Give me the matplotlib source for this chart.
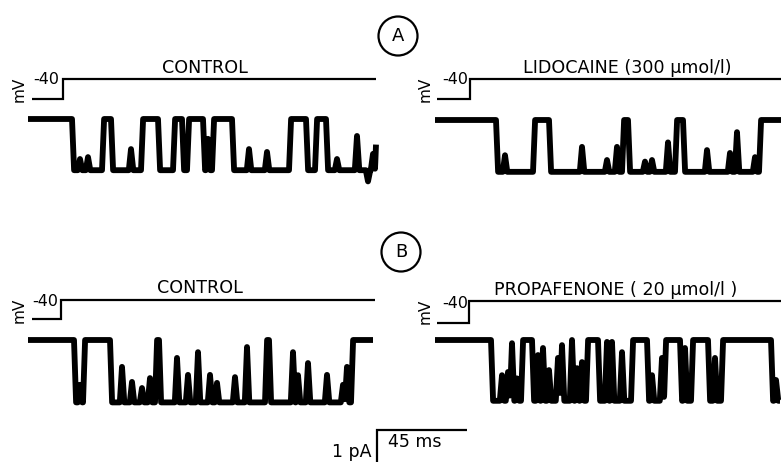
import numpy as np
import matplotlib
matplotlib.use("Agg")
import matplotlib.pyplot as plt
from matplotlib.patches import Circle

# ---------------- data (time in ms, current in pA, voltage in mV) ----------------
HOLD_MV = -100.0      # holding potential (not labelled in the figure)
STEP_MV = -40.0

# Panel A - control
T_A_CTRL = 174.0
AMP_A_CTRL = 1.6
OPEN_A_CTRL = [(22.5, 37.5), (42, 57), (65.5, 73), (77.5, 80), (88, 92.5),
               (102.5, 131), (139.5, 144), (149.5, 174)]
FLICK_A_CTRL = [(26, -1.25), (30, -1.19), (51.5, -0.94), (90, -0.62), (110.5, -0.94),
                (119.5, -1.03), (154.5, -1.25), (164.5, -0.53), (170, -1.95), (172.5, -1.09)]
VT_A_CTRL = [2.0, 17.5, 17.5, 174.0]

# Panel A - lidocaine
T_A_LIDO = 173.0
AMP_A_LIDO = 1.62
OPEN_A_LIDO = [(31, 49.5), (57.5, 94), (97, 120.5), (124.5, 162.5)]
FLICK_A_LIDO = [(35, -1.1), (73.5, -0.84), (86, -1.25), (91, -0.84), (105, -1.3),
                (108.5, -1.25), (116.5, -0.7), (136, -0.94), (147.5, -1.03),
                (151, -0.38), (160, -1.16)]
VT_A_LIDO = [1.0, 17.5, 17.5, 175.0]

# Panel B - control
T_B_CTRL = 172.5
AMP_B_CTRL = 1.95
OPEN_B_CTRL = [(23.5, 28), (41.5, 64), (66, 119), (121, 162)]
FLICK_B_CTRL = [(26, -1.4), (47, -0.84), (52, -1.31), (57, -1.5), (61, -1.19),
                (74.5, -0.56), (80, -1.09), (85, -0.38), (91, -1.09), (94.5, -1.34),
                (103.5, -1.16), (109.5, -0.22), (132.5, -0.38), (135, -1.1),
                (140, -0.72), (149.5, -1.09), (157.5, -1.4), (159.5, -0.84)]
VT_B_CTRL = [2.0, 16.5, 16.5, 173.5]

# Panel B - propafenone
T_B_PROP = 172.5
AMP_B_PROP = 1.9
OPEN_B_PROP = [(28.5, 43.5), (49, 76), (82, 98.5), (106.5, 115), (123, 128.5),
               (137, 143.5), (168.5, 173)]
FLICK_B_PROP = [(33.5, -1.1), (36.5, -1.0), (38.5, -0.1), (41, -1.2), (51.5, -0.47),
                (54, -0.25), (57, -0.94), (61.5, -0.56), (63.5, -0.16), (68.5, 0.0),
                (71, -0.88), (73.5, -0.69), (86, -0.06), (88.5, -0.06), (93.5, -0.38),
                (108.5, -1.1), (113.5, -0.56), (125, -0.25), (140, -0.56), (170.5, -1.25)]
VT_B_PROP = [1.0, 17.0, 17.0, 175.0]

V_LEVELS = [HOLD_MV, HOLD_MV, STEP_MV, STEP_MV]

TITLES = ["CONTROL", "LIDOCAINE (300 \u00b5mol/l)", "CONTROL", "PROPAFENONE ( 20 \u00b5mol/l )"]
SCALE_MS = 45
SCALE_PA = 1

# ---------------- layout ----------------
W, H, DPI = 781, 462, 100
PX_PER_MS = 2.0
PX_PER_PA = 32.0

fig = plt.figure(figsize=(W / DPI, H / DPI), dpi=DPI)
fig.patch.set_facecolor("white")


def px_axes(left, top, width, height):
    ax = fig.add_axes([left / W, 1 - (top + height) / H, width / W, height / H])
    ax.set_axis_off()
    return ax


def build_trace(T, amp, opens, flicks, dt=0.05, rise=1.0, fw=1.1):
    t = np.arange(0, T + dt, dt)
    frac = np.zeros_like(t)
    for a, b in opens:
        up = np.clip((t - a) / rise + 0.5, 0, 1)
        down = np.clip((b - t) / rise + 0.5, 0, 1)
        frac = np.maximum(frac, np.minimum(up, down))
    cur = -amp * frac
    for tc, lvl in flicks:
        w = np.clip(1 - np.abs(t - tc) / fw, 0, 1)
        cur = cur + (lvl - cur) * w
    return t, cur


panels = [
    dict(x0=28, cy=119, vh=79, vl=99, T=T_A_CTRL, amp=AMP_A_CTRL, op=OPEN_A_CTRL,
         fl=FLICK_A_CTRL, vt=VT_A_CTRL, title=TITLES[0], tx=205, ty=68,
         lab40=(46, 80), mv=(19, 89)),
    dict(x0=435, cy=120, vh=79, vl=99, T=T_A_LIDO, amp=AMP_A_LIDO, op=OPEN_A_LIDO,
         fl=FLICK_A_LIDO, vt=VT_A_LIDO, title=TITLES[1], tx=627, ty=68,
         lab40=(455, 80), mv=(425, 89)),
    dict(x0=28, cy=340, vh=300, vl=319, T=T_B_CTRL, amp=AMP_B_CTRL, op=OPEN_B_CTRL,
         fl=FLICK_B_CTRL, vt=VT_B_CTRL, title=TITLES[2], tx=200, ty=288,
         lab40=(45, 301), mv=(19, 310)),
    dict(x0=435, cy=340, vh=301, vl=323, T=T_B_PROP, amp=AMP_B_PROP, op=OPEN_B_PROP,
         fl=FLICK_B_PROP, vt=VT_B_PROP, title=TITLES[3], tx=616, ty=290,
         lab40=(455, 304), mv=(425, 311)),
]

FONT = "DejaVu Sans"

for p in panels:
    xmax = p["T"] + 6
    # current trace
    top_pad, bot_pad = 22, 72
    axc = px_axes(p["x0"], p["cy"] - top_pad, xmax * PX_PER_MS, top_pad + bot_pad)
    t, cur = build_trace(p["T"], p["amp"], p["op"], p["fl"])
    axc.plot(t, cur, color="black", lw=4.2, solid_joinstyle="round", solid_capstyle="butt")
    axc.set_xlim(0, xmax)
    axc.set_ylim(-bot_pad / PX_PER_PA, top_pad / PX_PER_PA)

    # voltage protocol
    ppmv = (p["vl"] - p["vh"]) / (STEP_MV - HOLD_MV)
    pad = 10
    axv = px_axes(p["x0"], p["vh"] - pad, xmax * PX_PER_MS, (p["vl"] - p["vh"]) + 2 * pad)
    axv.plot(p["vt"], V_LEVELS, color="black", lw=1.6, solid_joinstyle="miter",
             solid_capstyle="butt")
    axv.set_xlim(0, xmax)
    axv.set_ylim(HOLD_MV - pad / ppmv, STEP_MV + pad / ppmv)

    fig.text(p["tx"] / W, 1 - p["ty"] / H, p["title"], ha="center", va="center",
             fontsize=12.6, family=FONT)
    fig.text(p["lab40"][0] / W, 1 - p["lab40"][1] / H, "-40", ha="center", va="center",
             fontsize=11.5, family=FONT)
    fig.text(p["mv"][0] / W, 1 - p["mv"][1] / H, "mV", ha="center", va="center",
             fontsize=11, family=FONT, rotation=90)

# circled panel letters
ov = fig.add_axes([0, 0, 1, 1])
ov.set_axis_off()
ov.set_xlim(0, W)
ov.set_ylim(H, 0)
for (cx, cy, lab) in [(398, 36, "A"), (401, 252, "B")]:
    ov.add_patch(Circle((cx, cy), 19.5, fill=False, lw=1.6, color="black"))
    ov.text(cx, cy, lab, ha="center", va="center", fontsize=13, family=FONT)

# scale bar
axs = px_axes(377, 430, SCALE_MS * PX_PER_MS + 2, PX_PER_PA)
axs.plot([0, 0, SCALE_MS], [-SCALE_PA, 0, 0], color="black", lw=1.6,
         solid_joinstyle="miter", solid_capstyle="butt", clip_on=False)
axs.set_xlim(0, SCALE_MS + 1)
axs.set_ylim(-SCALE_PA, 0)
fig.text(372 / W, 1 - 452 / H, "1 pA", ha="right", va="center", fontsize=12.5, family=FONT)
fig.text(415 / W, 1 - 442 / H, "45 ms", ha="center", va="center", fontsize=12.5, family=FONT)

fig.savefig("out.png", dpi=DPI, facecolor="white")
